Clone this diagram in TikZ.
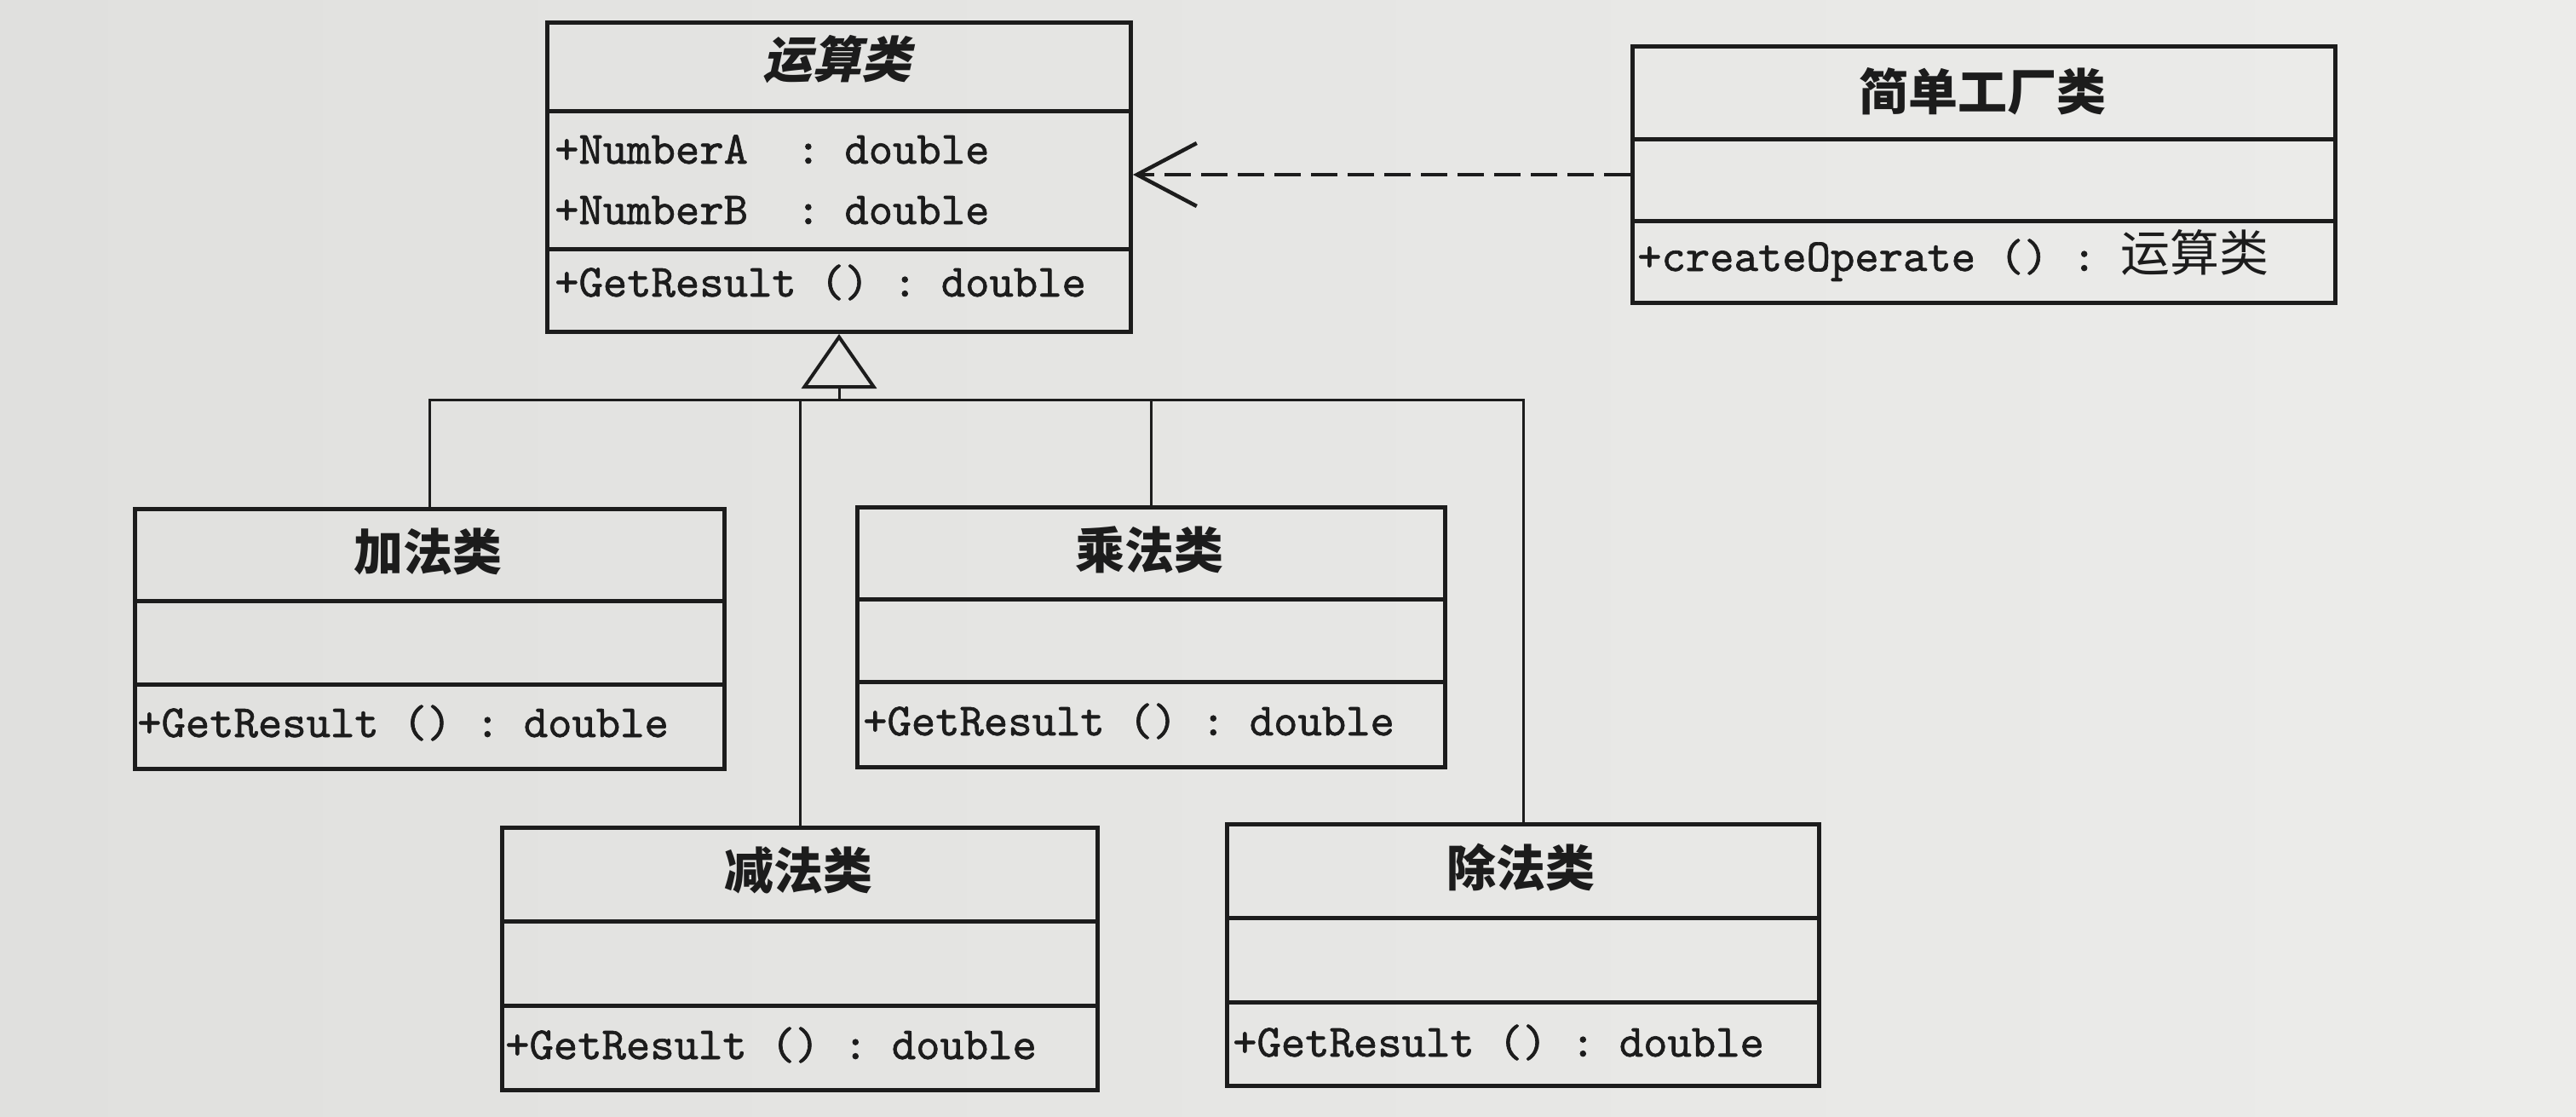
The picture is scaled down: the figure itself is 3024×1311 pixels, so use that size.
\documentclass[tikz,border=0pt]{standalone}
\usepackage{fontspec}
\setmonofont{lmmono10-regular.otf}[FakeBold=1.2]
\newfontfamily\cjk{Noto Sans CJK SC}
\newfontfamily\cjkti{Noto Sans CJK SC}[FakeSlant=0.22]
\usetikzlibrary{arrows.meta}
\definecolor{paperL}{RGB}{224,224,222}
\definecolor{paperR}{RGB}{236,236,234}
\definecolor{ink}{RGB}{28,28,28}
\tikzset{
  classbox/.style={draw=ink, line width=5pt, rectangle, inner sep=0pt, anchor=north west},
  divider/.style={draw=ink, line width=5pt},
  ctitle/.style={font=\cjk\bfseries\fontsize{58}{64}\selectfont, text=ink, inner sep=0pt},
  atitle/.style={font=\cjkti\bfseries\fontsize{58}{64}\selectfont, text=ink, inner sep=0pt},
  member/.style={font=\ttfamily\fontsize{54}{60}\selectfont, text=ink, anchor=base west, inner sep=0pt},
  conn/.style={draw=ink, line width=3pt},
  inherit/.style={conn, -{Triangle[open, length=64pt, width=88pt, line width=4pt]}},
  depend/.style={draw=ink, line width=4.5pt, dash pattern=on 31pt off 12pt,
     -{Straight Barb[length=70pt, width=74pt, line width=4.5pt]}},
}
\begin{document}
\begin{tikzpicture}[x=1pt, y=-1pt]
\useasboundingbox (0,0) rectangle (3024,1311);
\shade[left color=paperL, right color=paperR] (0,0) rectangle (3024,1311);

% ---- abstract class
\node[classbox, minimum width=685pt, minimum height=363pt] (op) at (640,24) {};
\draw[divider] (op.north west) ++(0,107) -- ++(685,0);
\draw[divider] (op.north west) ++(0,268) -- ++(685,0);
\node[atitle] (optitle) at (982,70) {运算类};
\node[member] (opa) at (651,192) {+NumberA\ \ :\ double};
\node[member] (opb) at (651,263) {+NumberB\ \ :\ double};
\node[member] (opm) at (651,348) {+GetResult\ ()\ :\ double};

% ---- factory class
\node[classbox, minimum width=825pt, minimum height=301pt] (fac) at (1914,52) {};
\draw[divider] (fac.north west) ++(0,111) -- ++(825,0);
\draw[divider] (fac.north west) ++(0,207) -- ++(825,0);
\node[ctitle] (factitle) at (2327,107) {简单工厂类};
\node[member] (facm) at (1922,318) {+createOperate\ ()\ :\ {\cjk\fontsize{58}{60}\selectfont 运算类}};

% ---- subclasses
\node[classbox, minimum width=692pt, minimum height=305pt] (add) at (156,595) {};
\draw[divider] (add.north west) ++(0,110) -- ++(692,0);
\draw[divider] (add.north west) ++(0,208) -- ++(692,0);
\node[ctitle] (addtitle) at (502,647) {加法类};
\node[member] (addm) at (161,865) {+GetResult\ ()\ :\ double};

\node[classbox, minimum width=690pt, minimum height=305pt] (mul) at (1004,593) {};
\draw[divider] (mul.north west) ++(0,110) -- ++(690,0);
\draw[divider] (mul.north west) ++(0,207) -- ++(690,0);
\node[ctitle] (multitle) at (1349,645) {乘法类};
\node[member] (mulm) at (1013,863) {+GetResult\ ()\ :\ double};

\node[classbox, minimum width=699pt, minimum height=308pt] (sub) at (587,969) {};
\draw[divider] (sub.north west) ++(0,112) -- ++(699,0);
\draw[divider] (sub.north west) ++(0,211) -- ++(699,0);
\node[ctitle] (subtitle) at (937,1021) {减法类};
\node[member] (subm) at (593,1243) {+GetResult\ ()\ :\ double};

\node[classbox, minimum width=695pt, minimum height=307pt] (divc) at (1438,965) {};
\draw[divider] (divc.north west) ++(0,112) -- ++(695,0);
\draw[divider] (divc.north west) ++(0,211) -- ++(695,0);
\node[ctitle] (divtitle) at (1785,1018) {除法类};
\node[member] (divm) at (1447,1240) {+GetResult\ ()\ :\ double};

% ---- connectors
\coordinate (bus) at (0,469);
\coordinate (dep) at (0,205);
\draw[conn] (add.north) -- (add.north |- bus) -- (divc.north |- bus) -- (divc.north);
\draw[conn] (sub.north |- bus) -- (sub.north);
\draw[conn] (mul.north |- bus) -- (mul.north);
\draw[inherit] (op.south |- bus) -- (op.south);
\draw[depend] (fac.west |- dep) -- (op.east |- dep);
\end{tikzpicture}
\end{document}
